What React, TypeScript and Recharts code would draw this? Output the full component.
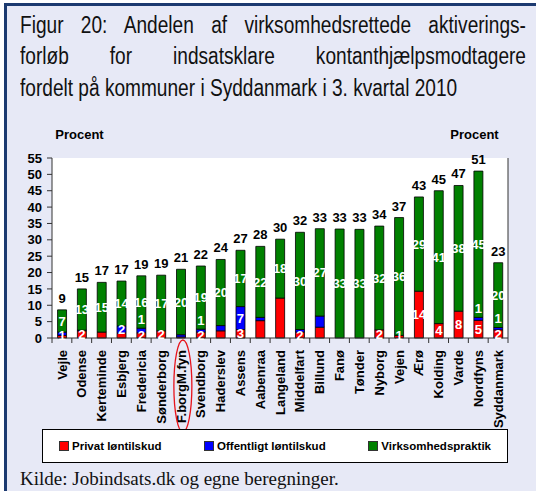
import { Bar, BarChart, CartesianGrid, LabelList, Legend, XAxis, YAxis } from 'recharts';

// kommuner i Syddanmark, 3. kvartal 2010
const kommuner = ['Vejle', 'Odense', 'Kerteminde', 'Esbjerg', 'Fredericia', 'Sønderborg', 'F.borgM.fyn', 'Svendborg', 'Haderslev', 'Assens', 'Aabenraa', 'Langeland', 'Middelfart', 'Billund', 'Fanø', 'Tønder', 'Nyborg', 'Vejen', 'Ærø', 'Kolding', 'Varde', 'Nordfyns', 'Syddanmark'];

// procent
const privat = [0.8, 2.2, 1.8, 1.5, 1.6, 2.2, 0.3, 1.8, 2.2, 2.6, 5.3, 12.2, 1.8, 3.3, 0, 0, 2.5, 0.8, 14.3, 4.4, 8.2, 5.4, 2.5];
const offentligt = [1.0, 0.2, 0, 2.2, 1.4, 0, 0.7, 0.9, 1.6, 7.0, 1.0, 0, 0.8, 3.4, 0, 0, 0, 0, 0, 0, 0, 0.9, 0.7];
const praktik = [6.8, 12.6, 15.2, 13.7, 16.0, 17.0, 20.0, 19.3, 20.2, 17.2, 21.7, 18.0, 29.7, 26.7, 33.3, 33.2, 31.7, 36.0, 28.8, 40.6, 38.4, 44.7, 19.8];
const totaler = [9, 15, 17, 17, 19, 19, 21, 22, 24, 27, 28, 30, 32, 33, 33, 33, 34, 37, 43, 45, 47, 51, 23];

// datalabels som i figuren (tom = ingen label)
const privatTekst = ['1', '2', '', '', '2', '2', '', '2', '', '3', '', '', '2', '', '', '0', '2', '1', '14', '4', '8', '5', '2'];
const offentligtTekst = ['', '', '', '2', '1', '', '', '1', '', '7', '', '', '', '', '', '', '', '', '', '', '', '1', '1'];
const praktikTekst = ['7', '13', '15', '14', '16', '17', '20', '19', '20', '17', '22', '18', '30', '27', '33', '33', '32', '36', '29', '41', '38', '45', '20'];

const serier = ['Privat løntilskud', 'Offentligt løntilskud', 'Virksomhedspraktik'];
const yTicks = [0, 5, 10, 15, 20, 25, 30, 35, 40, 45, 50, 55];

const data = kommuner.map((kommune, i) => ({
    kommune,
    privat: privat[i],
    offentligt: offentligt[i],
    praktik: praktik[i],
    total: totaler[i],
    pTekst: privatTekst[i],
    oTekst: offentligtTekst[i],
    vTekst: praktikTekst[i],
}));

const FONT = "'Liberation Sans', Arial, sans-serif";
const W = 536;
const H = 491;
const MARGIN = { top: 158, right: 3, bottom: 63, left: 5 };
const LEFT_W = 47;
const RIGHT_W = 25;
const BAND = (W - MARGIN.left - MARGIN.right - LEFT_W - RIGHT_W) / kommuner.length;
const NARROW = 0.83; // Arial Narrow findes ikke, så Arial trykkes sammen

const indreLabel = (flyt: boolean) => (props: any) => {
    const { x, y, width, height, value } = props;
    if (!value) return null;
    let cy = y + height / 2;
    if (flyt && height < 6) cy = y - 9;
    else cy = Math.min(cy, 335);
    return (
        <text x={x + width / 2} y={cy} dy="0.36em" textAnchor="middle" fill="#fff" fontWeight="bold" fontSize={13} fontFamily={FONT}>
            {value}
        </text>
    );
};

const totalLabel = (props: any) => {
    const { x, y, width, value } = props;
    return (
        <text x={x + width / 2} y={y - 7} textAnchor="middle" fill="#000" fontWeight="bold" fontSize={13} fontFamily={FONT}>
            {value}
        </text>
    );
};

const KommuneTick = (props: any) => {
    const { x, y, payload, index } = props;
    const half = BAND / 2;
    return (
        <g>
            <line x1={x - half} y1={y} x2={x - half} y2={y + 5} stroke="#333" />
            {index === kommuner.length - 1 && <line x1={x + half} y1={y} x2={x + half} y2={y + 5} stroke="#333" />}
            <text
                x={x}
                y={y + 12}
                transform={`rotate(-90, ${x}, ${y + 12})`}
                textAnchor="end"
                dy="0.36em"
                fill="#000"
                fontWeight="bold"
                fontSize={13}
                fontFamily={FONT}
            >
                {payload.value}
            </text>
            {payload.value === 'F.borgM.fyn' && (
                <ellipse cx={x + 2} cy={y + 48} rx={9} ry={46} fill="none" stroke="#e8141c" strokeWidth={1.3} />
            )}
        </g>
    );
};

const procentLabel = (dx: number) => (props: any) => {
    const { viewBox } = props;
    return (
        <text x={viewBox.x + viewBox.width / 2 + dx} y={viewBox.y - 19} textAnchor="middle" fill="#000" fontWeight="bold" fontSize={13} fontFamily={FONT}>
            Procent
        </text>
    );
};

const LegendBox = (props: any) => {
    const items = [...(props.payload || [])].sort((a: any, b: any) => serier.indexOf(a.value) - serier.indexOf(b.value));
    return (
        <div
            style={{
                boxSizing: 'border-box',
                width: 466,
                height: 34,
                padding: '0 16px 0 16px',
                background: '#fff',
                border: '1px solid #000',
                display: 'flex',
                alignItems: 'center',
                justifyContent: 'space-between',
                fontFamily: FONT,
                fontWeight: 'bold',
                fontSize: 11.5,
                color: '#000',
            }}
        >
            {items.map((entry: any) => (
                <div key={entry.value} style={{ display: 'flex', alignItems: 'center', gap: 3 }}>
                    <span style={{ display: 'inline-block', width: 8, height: 8, background: entry.color, border: '1px solid #333' }} />
                    <span>{entry.value}</span>
                </div>
            ))}
        </div>
    );
};

export default function App() {
    return (
        <div style={{ position: 'absolute', left: 0, top: 0, width: W, height: H, overflow: 'hidden', background: '#fff' }}>
            <div
                style={{
                    position: 'absolute',
                    left: 4,
                    top: 3,
                    width: W + 20,
                    height: H + 20,
                    background: '#e7e9f6',
                    borderLeft: '3px solid #1c3a70',
                    borderTop: '3px solid #1c3a70',
                }}
            />
            <div style={{ position: 'absolute', left: 0, top: 0 }}>
                <BarChart width={W} height={H} data={data} margin={MARGIN} barCategoryGap="28%">
                    <CartesianGrid fill="#fff" horizontal={false} vertical={false} />
                    <XAxis
                        dataKey="kommune"
                        interval={0}
                        height={90}
                        tickSize={0}
                        tickMargin={0}
                        tickLine={false}
                        axisLine={{ stroke: '#333' }}
                        tick={<KommuneTick />}
                    />
                    <YAxis
                        yAxisId="v"
                        orientation="left"
                        width={LEFT_W}
                        domain={[0, 55]}
                        ticks={yTicks}
                        interval={0}
                        tickSize={5}
                        tickMargin={5}
                        axisLine={{ stroke: '#333' }}
                        tickLine={{ stroke: '#333' }}
                        tick={{ fill: '#000', fontWeight: 'bold', fontSize: 13, fontFamily: FONT }}
                        label={procentLabel(51)}
                    />
                    <YAxis
                        yAxisId="h"
                        orientation="right"
                        width={RIGHT_W}
                        domain={[0, 55]}
                        ticks={yTicks}
                        interval={0}
                        tickSize={5}
                        tickMargin={1}
                        axisLine={{ stroke: '#333' }}
                        tickLine={{ stroke: '#333' }}
                        tick={{ fill: '#000', fontWeight: 'bold', fontSize: 13, fontFamily: FONT }}
                        label={procentLabel(-46)}
                    />
                    <Legend
                        layout="horizontal"
                        verticalAlign="middle"
                        align="center"
                        wrapperStyle={{ left: 42, top: 429, width: 466, height: 34 }}
                        content={<LegendBox />}
                    />
                    <Bar yAxisId="v" dataKey="privat" name={serier[0]} stackId="a" fill="#ff0000" stroke="#000" strokeWidth={0.8} isAnimationActive={false}>
                        <LabelList dataKey="pTekst" content={indreLabel(false)} />
                    </Bar>
                    <Bar yAxisId="v" dataKey="offentligt" name={serier[1]} stackId="a" fill="#0000ff" stroke="#000" strokeWidth={0.8} isAnimationActive={false}>
                        <LabelList dataKey="oTekst" content={indreLabel(true)} />
                    </Bar>
                    <Bar yAxisId="v" dataKey="praktik" name={serier[2]} stackId="a" fill="#008000" stroke="#000" strokeWidth={0.8} isAnimationActive={false}>
                        <LabelList dataKey="vTekst" content={indreLabel(false)} />
                        <LabelList dataKey="total" content={totalLabel} />
                    </Bar>
                </BarChart>
            </div>
            <div
                style={{
                    position: 'absolute',
                    left: 20,
                    top: 9.5,
                    width: 506 / NARROW,
                    transform: `scaleX(${NARROW})`,
                    transformOrigin: '0 0',
                    fontFamily: FONT,
                    fontSize: 23,
                    lineHeight: '31.7px',
                    color: '#111',
                }}
            >
                <div style={{ textAlign: 'justify', textAlignLast: 'justify', whiteSpace: 'nowrap' }}>
                    Figur 20: Andelen af virksomhedsrettede aktiverings-
                </div>
                <div style={{ textAlign: 'justify', textAlignLast: 'justify', whiteSpace: 'nowrap' }}>
                    forløb for indsatsklare kontanthjælpsmodtagere
                </div>
                <div style={{ whiteSpace: 'nowrap' }}>fordelt på kommuner i Syddanmark i 3. kvartal 2010</div>
            </div>
            <div
                style={{
                    position: 'absolute',
                    left: 20,
                    top: 469,
                    fontFamily: "'Liberation Serif', 'Times New Roman', serif",
                    fontSize: 19,
                    lineHeight: '19px',
                    color: '#111',
                    whiteSpace: 'nowrap',
                }}
            >
                Kilde: Jobindsats.dk og egne beregninger.
            </div>
        </div>
    );
}
